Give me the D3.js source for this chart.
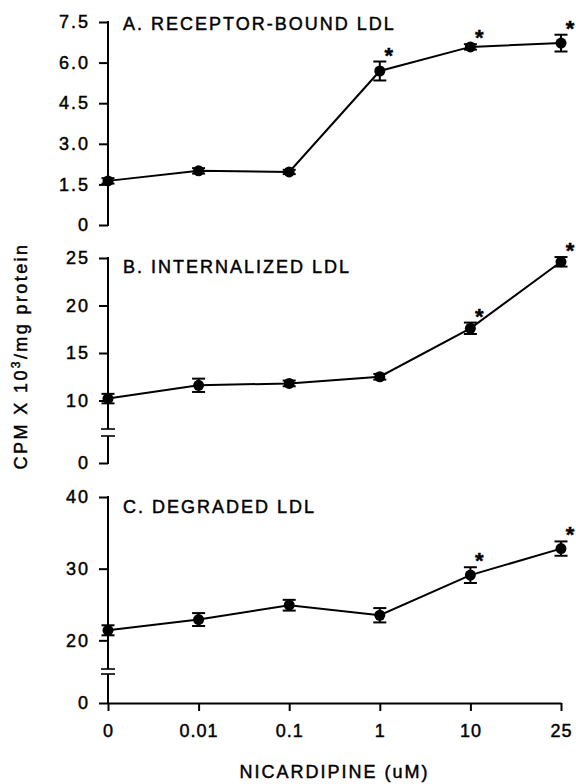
<!DOCTYPE html>
<html lang="en">

<head>
  <meta charset="UTF-8" />
  <title>LDL vs nicardipine</title>
  <script src="https://d3js.org/d3.v7.min.js"></script>
  <style>
    body {
      margin: 0;
      background: white;
    }

    text {
      font-family: 'Liberation Sans', Arial, sans-serif;
      fill: black;
      stroke: black;
      stroke-width: 0.45px;
    }
  </style>
</head>

<body>
  <script>
    //data
    const doses = ['0', '0.01', '0.1', '1', '10', '25'];

    const receptorBound = [1.63, 2.0, 1.96, 5.69, 6.58, 6.72];
    const receptorBoundErr = [0.1, 0.1, 0.08, 0.35, 0.1, 0.31];
    const receptorBoundStar = [false, false, false, true, true, true];

    const internalized = [10.2, 11.6, 11.8, 12.5, 17.6, 24.6];
    const internalizedErr = [0.5, 0.7, 0.3, 0.3, 0.6, 0.5];
    const internalizedStar = [false, false, false, false, true, true];

    const degraded = [21.4, 22.9, 24.9, 23.5, 29.1, 32.8];
    const degradedErr = [0.7, 0.9, 0.75, 1.0, 1.1, 1.0];
    const degradedStar = [false, false, false, false, true, true];

    const ticksA = [0, 1.5, 3, 4.5, 6, 7.5];
    const ticksB = [0, 10, 15, 20, 25];
    const ticksC = [0, 20, 30, 40];

    const titles = ['A. RECEPTOR-BOUND LDL', 'B. INTERNALIZED LDL', 'C. DEGRADED LDL'];
    const xTitle = 'NICARDIPINE (uM)';

    const width = 576, height = 784;
    const fontSize = 18;

    const svg = d3.select('body').append('svg')
      .attr('width', width)
      .attr('height', height);

    const x = d3.scalePoint()
      .domain(doses)
      .range([108, 561]);

    //panel layout; broken axes use a piecewise scale
    const panels = [
      {
        title: titles[0], values: receptorBound, errs: receptorBoundErr, stars: receptorBoundStar,
        ticks: ticksA, fmt: d => d === 0 ? '0' : d3.format('.1f')(d),
        domain: [0, 7.5], range: [225, 22], segments: [[0, 7.5]], titleY: 30
      },
      {
        title: titles[1], values: internalized, errs: internalizedErr, stars: internalizedStar,
        ticks: ticksB, fmt: d3.format('d'),
        domain: [0, 3, 7, 25], range: [463, 436, 429, 258], segments: [[0, 3], [7, 25]], titleY: 273
      },
      {
        title: titles[2], values: degraded, errs: degradedErr, stars: degradedStar,
        ticks: ticksC, fmt: d3.format('d'),
        domain: [0, 14, 16, 40], range: [703, 674, 669, 497], segments: [[0, 14], [16, 40]], titleY: 513
      }
    ];

    const x0 = x.range()[0];

    panels.forEach((p, k) => {
      const y = d3.scaleLinear().domain(p.domain).range(p.range);
      const g = svg.append('g').attr('class', 'panel');

      //y axis ticks and labels
      const yAxis = d3.axisLeft(y)
        .tickValues(p.ticks)
        .tickFormat(p.fmt)
        .tickSize(9)
        .tickPadding(9);
      const ag = g.append('g')
        .attr('transform', `translate(${x0},0)`)
        .call(yAxis);
      ag.select('.domain').remove();
      ag.selectAll('.tick line').attr('stroke', 'black').attr('stroke-width', 2);
      ag.selectAll('.tick text')
        .style('font-size', fontSize + 'px')
        .style('letter-spacing', '2px');

      //axis line, in pieces when broken
      g.selectAll('.seg')
        .data(p.segments)
        .join('line')
        .attr('x1', x0).attr('x2', x0)
        .attr('y1', d => y(d[0]) + (d[0] === 0 ? 1 : 0))
        .attr('y2', d => y(d[1]) - (d[1] === p.domain[p.domain.length - 1] ? 1 : 0))
        .attr('stroke', 'black')
        .attr('stroke-width', 2);

      //break marks
      if (p.segments.length > 1) {
        g.selectAll('.brk')
          .data([p.segments[0][1], p.segments[1][0]])
          .join('line')
          .attr('x1', x0 - 7).attr('x2', x0 + 7)
          .attr('y1', d => y(d)).attr('y2', d => y(d))
          .attr('stroke', 'black')
          .attr('stroke-width', 1.6);
      }

      //panel title
      g.append('text')
        .attr('x', 123)
        .attr('y', p.titleY)
        .style('font-size', fontSize + 'px')
        .style('letter-spacing', '2px')
        .text(p.title);

      const pts = doses.map((d, i) => ({ dose: d, v: p.values[i], e: p.errs[i], star: p.stars[i] }));

      //connecting line
      g.append('path')
        .datum(pts)
        .attr('fill', 'none')
        .attr('stroke', 'black')
        .attr('stroke-width', 2)
        .attr('d', d3.line().x(d => x(d.dose)).y(d => y(d.v)));

      //error bars
      const eb = g.selectAll('.err')
        .data(pts)
        .join('g')
        .attr('class', 'err')
        .attr('stroke', 'black')
        .attr('stroke-width', 2);
      eb.append('line')
        .attr('x1', d => x(d.dose)).attr('x2', d => x(d.dose))
        .attr('y1', d => y(d.v - d.e)).attr('y2', d => y(d.v + d.e));
      eb.append('line')
        .attr('x1', d => x(d.dose) - 6.5).attr('x2', d => x(d.dose) + 6.5)
        .attr('y1', d => y(d.v + d.e)).attr('y2', d => y(d.v + d.e));
      eb.append('line')
        .attr('x1', d => x(d.dose) - 6.5).attr('x2', d => x(d.dose) + 6.5)
        .attr('y1', d => y(d.v - d.e)).attr('y2', d => y(d.v - d.e));

      //markers
      g.selectAll('.dot')
        .data(pts)
        .join('circle')
        .attr('cx', d => x(d.dose))
        .attr('cy', d => y(d.v))
        .attr('r', 5.5)
        .attr('fill', 'black');

      //significance stars
      g.selectAll('.star')
        .data(pts.filter(d => d.star))
        .join('text')
        .attr('x', d => x(d.dose) + 9)
        .attr('y', d => y(d.v + d.e) + 1)
        .attr('text-anchor', 'middle')
        .style('font-size', '22px')
        .style('font-weight', 'bold')
        .text('*');

      //x axis only on the last panel
      if (k === panels.length - 1) {
        const xAxis = d3.axisBottom(x)
          .tickSize(8)
          .tickSizeOuter(0)
          .tickPadding(13);
        const xg = g.append('g')
          .attr('transform', `translate(0,${y(0)})`)
          .call(xAxis);
        xg.select('.domain').attr('stroke', 'black').attr('stroke-width', 2);
        xg.selectAll('.tick line').attr('stroke', 'black').attr('stroke-width', 2);
        xg.selectAll('.tick text')
          .style('font-size', fontSize + 'px')
          .style('letter-spacing', '1px');

        g.append('text')
          .attr('x', (x.range()[0] + x.range()[1]) / 2)
          .attr('y', 778)
          .attr('text-anchor', 'middle')
          .style('font-size', fontSize + 'px')
          .style('letter-spacing', '2px')
          .text(xTitle);
      }
    });

    //shared y label
    const yl = svg.append('text')
      .attr('transform', 'translate(27,356) rotate(-90)')
      .attr('text-anchor', 'middle')
      .style('font-size', fontSize + 'px')
      .style('letter-spacing', '2.4px');
    yl.append('tspan').text('CPM X 10');
    yl.append('tspan').attr('dy', -7).style('font-size', '12px').text('3');
    yl.append('tspan').attr('dy', 7).text('/mg protein');
  </script>
</body>

</html>
